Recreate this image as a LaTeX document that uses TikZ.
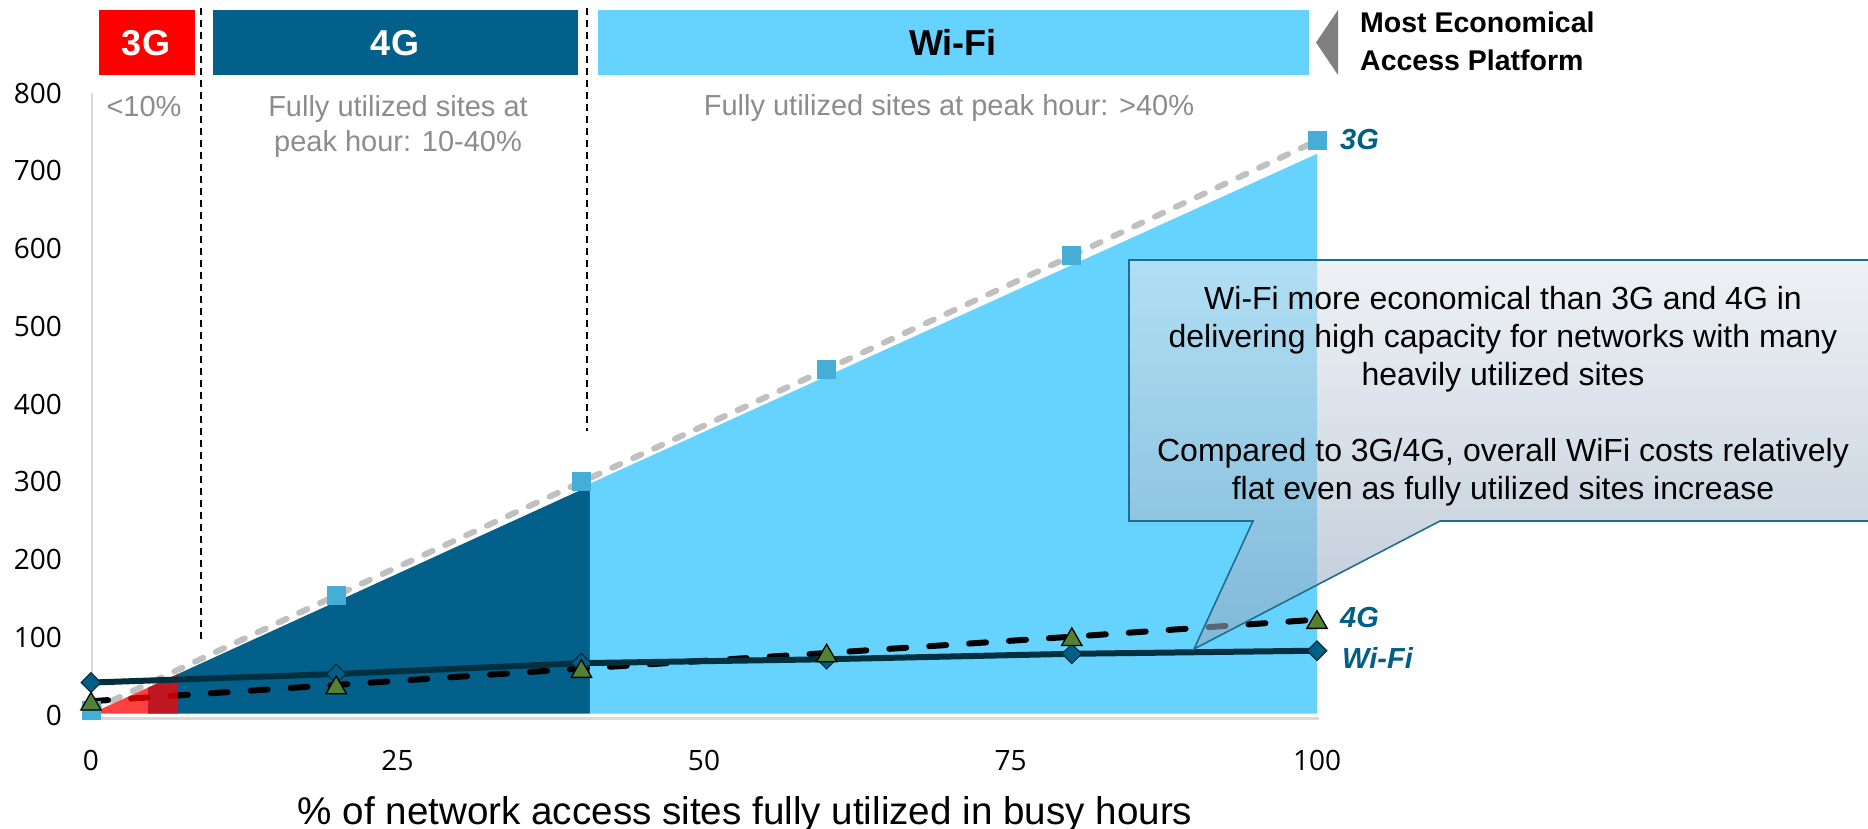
\documentclass[tikz,border=0pt]{standalone}
\usepackage{fontspec}
\setmainfont{Liberation Sans}
\newfontfamily\tickfont{Open Sans}
\usetikzlibrary{shapes.geometric}
\definecolor{red3g}{HTML}{FF0000}
\definecolor{blue4g}{HTML}{02608A}
\definecolor{bluewifi}{HTML}{66D3FF}
\definecolor{overlayred}{HTML}{FF0000}
\definecolor{graytxt}{HTML}{8C8C8C}
\definecolor{axisgray}{HTML}{D9D9D9}
\definecolor{line3g}{HTML}{C0C0C0}
\definecolor{mark3g}{HTML}{46AED6}
\definecolor{linewifi}{HTML}{00303F}
\definecolor{markwifi}{HTML}{005F87}
\definecolor{mark4g}{HTML}{548235}
\definecolor{callborder}{HTML}{1F6E90}
\definecolor{calltop}{RGB}{227,232,238}
\definecolor{callbot}{RGB}{145,167,190}
\definecolor{arrowgray}{HTML}{808080}
\definecolor{serieslbl}{HTML}{005F87}
\begin{document}
\begin{tikzpicture}[x=1pt,y=-1pt,
  boxlbl/.style={font=\fontsize{36}{40}\selectfont\bfseries, anchor=base, inner sep=0pt},
  graylbl/.style={font=\fontsize{29}{34}\selectfont, text=graytxt, anchor=base, inner sep=0pt},
  serlbl/.style={font=\fontsize{29}{34}\selectfont\bfseries\itshape, text=serieslbl, anchor=base west, inner sep=0pt},
  ecolbl/.style={font=\fontsize{28.5}{34}\selectfont\bfseries, anchor=base west, inner sep=0pt},
  calltxt/.style={font=\fontsize{32}{38}\selectfont, anchor=base, inner sep=0pt},
  ytick/.style={font=\tickfont\fontsize{28}{32}\selectfont, anchor=base east, inner sep=0pt},
  xtick/.style={font=\tickfont\fontsize{28}{32}\selectfont, anchor=base, inner sep=0pt},
  sqmark/.style={rectangle, minimum size=19pt, inner sep=0pt, fill=mark3g},
  diamark/.style={diamond, minimum width=20pt, minimum height=20pt, inner sep=0pt, fill=markwifi, draw=linewifi, line width=1.2pt},
  trimark/.style={regular polygon, regular polygon sides=3, minimum size=23.5pt, inner sep=0pt, yshift=-2.9pt, fill=mark4g, draw=black, line width=1.3pt},
  vdash/.style={black, line width=2.2pt, dash pattern=on 7pt off 5pt},
  bandbox/.style={inner sep=0pt, outer sep=0pt}
]
\useasboundingbox (0,0) rectangle (1868,829);
\clip (0,0) rectangle (1868,829);

% top bands
\node[bandbox, fill=red3g, minimum width=96pt, minimum height=65pt, anchor=north west] (b3g) at (99,10) {};
\node[bandbox, fill=blue4g, minimum width=365pt, minimum height=65pt, anchor=north west] (b4g) at (213,10) {};
\node[bandbox, fill=bluewifi, minimum width=711pt, minimum height=65pt, anchor=north west] (bwifi) at (598,10) {};
\node[boxlbl, text=white] (t3g) at (146,56) {3G};
\node[boxlbl, text=white] (t4g) at (395,56) {4G};
\node[boxlbl, text=black] (twifi) at (953,56) {Wi-Fi};
\fill[arrowgray] (1338,10) -- (1338,75) -- (1316,42.5) -- cycle;
\node[ecolbl] (eco1) at (1360,33) {Most Economical};
\node[ecolbl] (eco2) at (1360,71) {Access Platform};

% axes
\draw[axisgray, line width=2pt] (92,93) -- (92,716);
\draw[axisgray, line width=3pt] (91,718.5) -- (1319,718.5);
\foreach \v in {0,100,...,800}
  \node[ytick] (y\v) at (62,{716-0.7775*\v+9}) {\v};
\foreach \u in {0,25,50,75,100}
  \node[xtick] (x\u) at ({91+12.26*\u},770) {\u};
\node[font=\fontsize{38.6}{42}\selectfont, anchor=base, inner sep=0pt] (xtitle) at (745,824) {\% of network access sites fully utilized in busy hours};

% zone labels
\node[graylbl] (z1) at (144,117) {<10\%};
\node[graylbl] (z2a) at (398,117) {Fully utilized sites at};
\node[graylbl] (z2b) at (398,152) {peak hour: 10-40\%};
\node[graylbl] (z3) at (949,116) {Fully utilized sites at peak hour: >40\%};

\begin{scope}[shift={(91,716)}, x=12.26pt, y=0.7775pt]
  % areas
  \fill[blue4g] (4.65,3) -- (4.65,{3+7.2*4.65}) -- (40.7,{3+7.2*40.7}) -- (40.7,3) -- cycle;
  \fill[bluewifi] (40.7,3) -- (40.7,299) -- (100,723) -- (100,3) -- cycle;
  % data points
  \coordinate (g0) at (0,7);    \coordinate (g20) at (20,155);
  \coordinate (g40) at (40,301); \coordinate (g60) at (60,446);
  \coordinate (g80) at (80,592); \coordinate (g100) at (100,740);
  \coordinate (w0) at (0,43);   \coordinate (w20) at (20,54);
  \coordinate (w40) at (40,68); \coordinate (w60) at (60,73);
  \coordinate (w80) at (80,80); \coordinate (w100) at (100,84);
  \coordinate (f0) at (0,19);   \coordinate (f20) at (20,40);
  \coordinate (f40) at (40,61); \coordinate (f60) at (60,81);
  \coordinate (f80) at (80,102); \coordinate (f100) at (100,124);
  % zone separators
  \coordinate (d1t) at (8.95,{(716-8)/0.7775}); \coordinate (d1b) at (8.95,98);
  \coordinate (d2t) at (40.45,{(716-8)/0.7775}); \coordinate (d2b) at (40.45,366);
  % red overlay corners
  \coordinate (r1) at (0,3); \coordinate (r2) at (7.1,{3+7.2*7.1}); \coordinate (r3) at (7.1,3);
\end{scope}
\draw[vdash] (d1t) -- (d1b);
\draw[vdash] (d2t) -- (d2b);

% 3G series line
\draw[line3g, line width=6pt, dash pattern=on 9pt off 14pt, line cap=round] (g0) -- (g20) -- (g40) -- (g60) -- (g80) -- (g100);
% 4G series line
\draw[black, line width=6pt, dash pattern=on 17pt off 23pt, line cap=round] (f0) -- (f20) -- (f40) -- (f60) -- (f80) -- (f100);
% translucent red overlay (3G zone)
\fill[overlayred, fill opacity=0.75] (r1) -- (r2) -- (r3) -- cycle;
% Wi-Fi series line
\draw[linewifi, line width=6pt] (w0) -- (w20) -- (w40) -- (w60) -- (w80) -- (w100);
% markers
\foreach \p in {0,20,40,60,80,100} \node[sqmark] (m3g\p) at (g\p) {};
\foreach \p in {0,20,40,60,80,100} \node[diamark] (mwf\p) at (w\p) {};
\foreach \p in {0,20,40,60,80,100} \node[trimark] (m4g\p) at (f\p) {};

% series labels
\node[serlbl] (l3g) at (1340,150) {3G};
\node[serlbl] (l4g) at (1340,627) {4G};
\node[serlbl] (lwf) at (1342,668) {Wi-Fi};

% callout
\coordinate (ctip) at (1194,649);
\shade[top color=calltop, bottom color=callbot, fill opacity=0.6] (1129,260) -- (1880,260) -- (1880,521) -- (1440,521) -- (ctip) -- (1253,521) -- (1129,521) -- cycle;
\draw[callborder, line width=1.6pt, line join=miter] (1129,260) -- (1880,260) -- (1880,521) -- (1440,521) -- (ctip) -- (1253,521) -- (1129,521) -- cycle;
\node[calltxt] (c1) at (1503,309) {Wi-Fi more economical than 3G and 4G in};
\node[calltxt] (c2) at (1503,347) {delivering high capacity for networks with many};
\node[calltxt] (c3) at (1503,385) {heavily utilized sites};
\node[calltxt] (c4) at (1503,461) {Compared to 3G/4G, overall WiFi costs relatively};
\node[calltxt] (c5) at (1503,499) {flat even as fully utilized sites increase};
\end{tikzpicture}
\end{document}
